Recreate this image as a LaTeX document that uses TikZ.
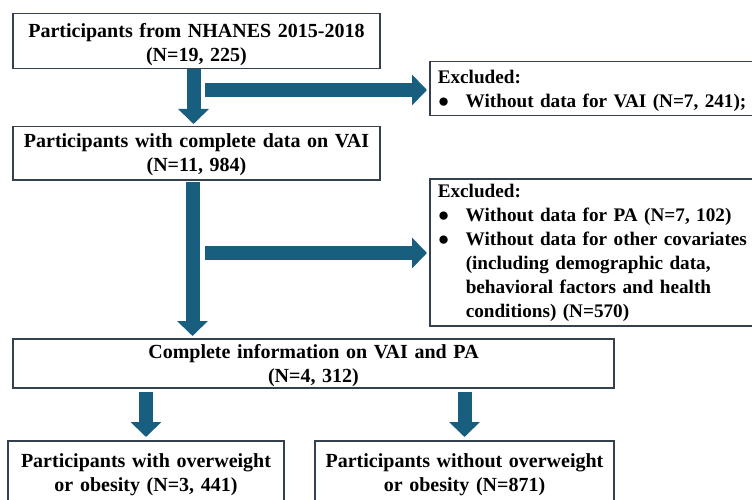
\documentclass[tikz,border=0pt]{standalone}
\usepackage{fontspec}
\setmainfont{Liberation Serif}
\usepackage{xcolor}
\usepackage{tikz}
\usetikzlibrary{positioning,arrows.meta}
\definecolor{boxgray}{RGB}{52, 64, 78}
\definecolor{flowblue}{RGB}{24, 94, 126}

\begin{document}
\begin{tikzpicture}[
    x=1pt, y=-1pt,
    every node/.style={font=\bfseries\fontsize{20}{24}\selectfont},
    pad/.style 2 args={execute at begin node={\rule{0pt}{#1}}, execute at end node={\rule[-#2]{0pt}{0pt}}},
    stage/.style={rectangle, draw=boxgray, line width=1.5pt, align=center, anchor=north, inner xsep=0pt, inner ysep=0pt},
    excluded/.style={rectangle, draw=boxgray, line width=1.5pt, align=left, anchor=north west, inner xsep=8pt, inner ysep=0pt, text width=330pt, font=\bfseries\fontsize{19.2}{24}\selectfont},
    arrow/.style={-{Triangle[width=30pt,length=15pt]}, line width=14pt, draw=flowblue}
]
    \useasboundingbox (0,0) rectangle (752,500);

    % Level 1: all participants
    \node[stage, pad={24pt}{7pt}, text width=367pt] (nhanes) at (196.5,13) {Participants from NHANES 2015-2018\\(N=19, 225)};
    \node[excluded, pad={22pt}{8pt}] (excl_vai) at (429,61) {Excluded:\\\makebox[28pt][l]{●}Without data for VAI (N=7, 241);};

    % Level 2: complete VAI data
    \node[stage, pad={21pt}{8pt}, text width=367pt] (vai) at (196.5,126) {Participants with complete data on VAI\\(N=11, 984)};
    \node[excluded, pad={19pt}{8pt}] (excl_pa) at (429,178) {Excluded:\\\makebox[28pt][l]{●}Without data for PA (N=7, 102)\\\makebox[28pt][l]{●}Without data for other covariates\\\hspace*{28pt}(including demographic data,\\\hspace*{28pt}behavioral factors and health\\\hspace*{28pt}conditions) (N=570)};

    % Level 3: analysed sample
    \node[stage, pad={20pt}{5pt}, text width=601pt] (both) at (313.5,338) {Complete information on VAI and PA\\(N=4, 312)};

    % Level 4: groups
    \node[stage, pad={27pt}{17pt}, text width=276pt] (over) at (146,440) {Participants with overweight\\or obesity (N=3, 441)};
    \node[stage, pad={27pt}{17pt}, text width=299pt] (notover) at (464.5,440) {Participants without overweight\\or obesity (N=871)};

    % Branch points
    \coordinate (split_vai) at (205,90);
    \coordinate (split_pa) at (205,253);

    % Draw Arrows
    \draw[arrow, shorten >=2pt] ([xshift=-3pt]nhanes.south) -- ([xshift=-3pt]nhanes.south |- vai.north);
    \draw[arrow, shorten <=1pt, shorten >=2pt] ([xshift=-4pt]vai.south) -- ([xshift=-4pt]vai.south |- both.north);
    \draw[arrow, shorten >=2pt] (split_vai) -- (split_vai -| excl_vai.west);
    \draw[arrow, shorten >=2pt] (split_pa) -- (split_pa -| excl_pa.west);
    \draw[arrow, shorten <=3pt, shorten >=3pt] (both.south -| over.north) -- (over.north);
    \draw[arrow, shorten <=3pt, shorten >=3pt] (both.south -| notover.north) -- (notover.north);

\end{tikzpicture}
\end{document}
